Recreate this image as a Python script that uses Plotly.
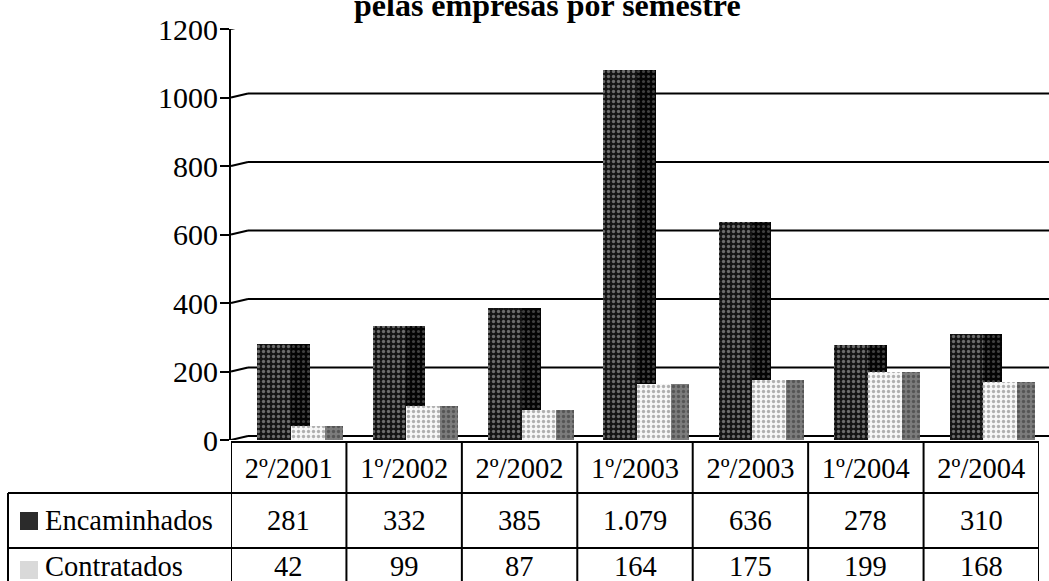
import plotly.graph_objects as go

# ---- data ----
categories = ["2º/2001", "1º/2002", "2º/2002", "1º/2003", "2º/2003", "1º/2004", "2º/2004"]
encaminhados = [281, 332, 385, 1079, 636, 278, 310]
contratados = [42, 99, 87, 164, 175, 199, 168]
series_names = ["Encaminhados", "Contratados"]
y_ticks = [0, 200, 400, 600, 800, 1000, 1200]
title_line = "pelas empresas por semestre"

# ---- layout helpers (pixel -> paper) ----
W, H = 1049, 581
L, R, T, B = 231, 10, 29, 141
PLOT_W = W - L - R
PLOT_H = H - T - B


def px(x):
    return (x - L) / PLOT_W


def py(y):
    return (H - B - y) / PLOT_H


UNIT_PER_PX = 1200 / PLOT_H
FONT = "Liberation Serif, Times New Roman, serif"
TABLE_FONT = dict(family=FONT, size=28.5, color="black")


def fmt(v):
    return f"{v:,}".replace(",", ".")


fig = go.Figure()

# 3-D style bars: side faces first, then fronts
bar_specs = [
    (encaminhados, 0.017, 0.165, "#040404", "#404040", 0.30),   # E side
    (encaminhados, -0.273, 0.290, "#141414", "#6c6c6c", 0.35),  # E front
    (contratados, 0.312, 0.156, "#7c7c7c", "#555555", 0.35),    # C side
    (contratados, 0.017, 0.295, "#f7f7f7", "#b0b0b0", 0.35),    # C front
]
for vals, off, wid, bg, fg, sol in bar_specs:
    fig.add_trace(go.Bar(
        x=categories, y=vals, offset=off, width=wid,
        marker=dict(color=bg, line=dict(width=0),
                    pattern=dict(shape=".", bgcolor=bg, fgcolor=fg,
                                 size=5, solidity=sol, fillmode="replace")),
        showlegend=False, hoverinfo="skip",
    ))

shapes = []
# back-wall gridlines with perspective kink
dx, dy = px(248), 4 * UNIT_PER_PX
for v in y_ticks:
    shapes.append(dict(type="line", xref="paper", yref="y", x0=0, y0=v, x1=dx, y1=v + dy,
                       line=dict(color="black", width=2), layer="below"))
    shapes.append(dict(type="line", xref="paper", yref="y", x0=dx, y0=v + dy, x1=px(W + 5), y1=v + dy,
                       line=dict(color="black", width=2), layer="below"))

# data table grid
line = dict(color="black", width=2)
bottom = py(H + 10)
for i in range(len(categories) + 1):
    shapes.append(dict(type="line", xref="x", yref="paper", x0=i - 0.5, x1=i - 0.5,
                       y0=py(441), y1=bottom, line=line))
shapes.append(dict(type="line", xref="paper", yref="paper", x0=0, x1=1, y0=py(442), y1=py(442), line=line))
for yy in (493, 548):
    shapes.append(dict(type="line", xref="paper", yref="paper", x0=px(8), x1=1, y0=py(yy), y1=py(yy), line=line))
shapes.append(dict(type="line", xref="paper", yref="paper", x0=px(8), x1=px(8), y0=py(493), y1=bottom, line=line))

# legend swatches in the table
shapes.append(dict(type="rect", xref="paper", yref="paper", x0=px(20), x1=px(38), y0=py(530), y1=py(512),
                   fillcolor="#2b2b2b", line=dict(width=0)))
shapes.append(dict(type="rect", xref="paper", yref="paper", x0=px(20), x1=px(38), y0=py(579), y1=py(561),
                   fillcolor="#d9d9d9", line=dict(width=0)))

annotations = []
row_y = [py(520), py(566)]
for name, vals, ry in zip(series_names, [encaminhados, contratados], row_y):
    annotations.append(dict(xref="paper", yref="paper", x=px(43), y=ry, xanchor="left", yanchor="middle",
                            text=name, showarrow=False, font=TABLE_FONT))
    for c, v in zip(categories, vals):
        annotations.append(dict(xref="x", yref="paper", x=c, y=ry, xanchor="center", yanchor="middle",
                                text=fmt(v), showarrow=False, font=TABLE_FONT))

annotations.append(dict(xref="paper", yref="paper", x=px(547), y=py(5), xanchor="center", yanchor="middle",
                        text=f"<b>{title_line}</b>", showarrow=False,
                        font=dict(family=FONT, size=32, color="black")))

fig.update_layout(
    width=W, height=H,
    margin=dict(l=L, r=R, t=T, b=B, pad=0),
    paper_bgcolor="white", plot_bgcolor="white",
    barmode="overlay", bargap=0,
    showlegend=False,
    shapes=shapes, annotations=annotations,
    xaxis=dict(type="category", categoryorder="array", categoryarray=categories,
               range=[-0.5, len(categories) - 0.5], showgrid=False, zeroline=False,
               showline=False, ticks="", tickfont=TABLE_FONT,
               ticklabelstandoff=8, fixedrange=True, automargin=False),
    yaxis=dict(range=[0, 1200], tickvals=y_ticks, showgrid=False, zeroline=False,
               showline=True, linecolor="black", linewidth=2,
               ticks="outside", ticklen=9, tickwidth=2, tickcolor="black",
               tickfont=dict(family=FONT, size=30, color="black"), ticklabelstandoff=-4,
               fixedrange=True, automargin=False),
)

fig.write_html("out.html", config={"displayModeBar": False},
               post_script="document.body.style.margin='0';document.body.style.overflow='hidden';")
